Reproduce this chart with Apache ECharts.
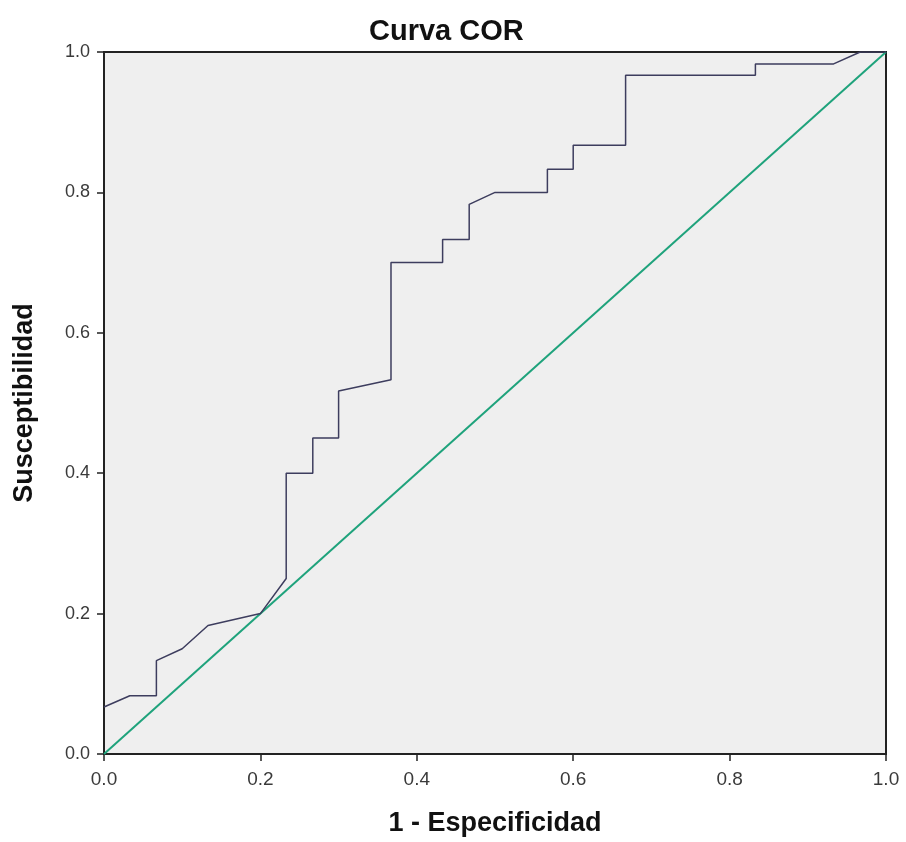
<!DOCTYPE html>
<html>
<head>
<meta charset="utf-8">
<script src="https://cdn.jsdelivr.net/npm/echarts@6/dist/echarts.min.js"></script>
<style>
  html, body { margin: 0; padding: 0; background: #fff; }
  #chart { width: 906px; height: 842px; }
</style>
</head>
<body>
<div id="chart"></div>
<script>
// curva COR: 1 - especificidad (x) y susceptibilidad (y)
const fprX = [0, 0.033, 0.067, 0.067, 0.1, 0.133, 0.2, 0.233, 0.233, 0.267, 0.267, 0.3, 0.3, 0.367, 0.367, 0.433, 0.433, 0.467, 0.467, 0.5, 0.567, 0.567, 0.6, 0.6, 0.667, 0.667, 0.833, 0.833, 0.933, 0.967, 1]
const tprY = [0.067, 0.083, 0.083, 0.133, 0.15, 0.183, 0.2, 0.25, 0.4, 0.4, 0.45, 0.45, 0.517, 0.533, 0.7, 0.7, 0.733, 0.733, 0.783, 0.8, 0.8, 0.833, 0.833, 0.867, 0.867, 0.967, 0.967, 0.983, 0.983, 1, 1]
const refX = [0, 1]
const refY = [0, 1]
const tickLabels = ['0.0', '0.2', '0.4', '0.6', '0.8', '1.0']

const chart = echarts.init(document.getElementById('chart'))
const fontFamily = '"Liberation Sans", Arial, sans-serif'

const axisCommon = {
  type: 'value',
  min: 0,
  max: 1,
  interval: 0.2,
  nameLocation: 'middle',
  nameTextStyle: { fontFamily, fontSize: 27, fontWeight: 'bold', color: '#111' },
  axisLine: { show: true, lineStyle: { color: '#222', width: 2 } },
  axisTick: { show: true, length: 7, lineStyle: { color: '#222', width: 1.5 } },
  axisLabel: {
    fontFamily,
    fontSize: 19,
    color: '#3a3a3a',
    formatter: v => tickLabels[Math.round(v * 5)]
  },
  splitLine: { show: false }
}

chart.setOption({
  animation: false,
  backgroundColor: '#fff',
  title: {
    text: 'Curva COR',
    left: 364,
    top: 12,
    textStyle: { fontFamily, fontSize: 29, fontWeight: 'bold', color: '#111' }
  },
  grid: {
    left: 104,
    right: 20,
    top: 52,
    bottom: 87,
    show: true,
    backgroundColor: '#efefef',
    borderColor: '#222',
    borderWidth: 2
  },
  xAxis: {
    ...axisCommon,
    name: '1 - Especificidad',
    nameGap: 56,
    axisLabel: { ...axisCommon.axisLabel, margin: 16 }
  },
  yAxis: {
    ...axisCommon,
    name: 'Susceptibilidad',
    nameGap: 66,
    axisLabel: { ...axisCommon.axisLabel, fontSize: 18, margin: 14 }
  },
  series: [
    {
      name: 'Referencia',
      type: 'line',
      data: refX.map((x, i) => [x, refY[i]]),
      showSymbol: false,
      lineStyle: { color: '#1fa37c', width: 2 },
      z: 2
    },
    {
      name: 'Curva',
      type: 'line',
      data: fprX.map((x, i) => [x, tprY[i]]),
      showSymbol: false,
      lineStyle: { color: '#3d3d5e', width: 1.5 },
      z: 3
    }
  ]
})
</script>
</body>
</html>
